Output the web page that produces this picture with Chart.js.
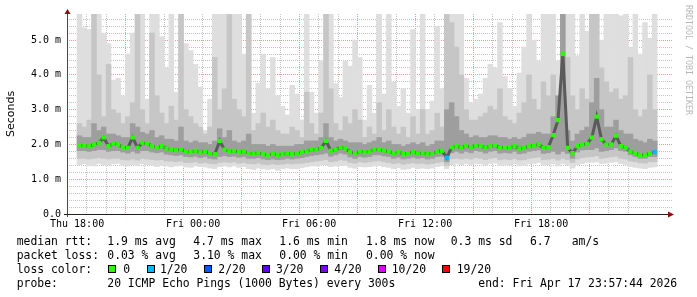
<!DOCTYPE html>
<html>
<head>
<meta charset="utf-8">
<script src="https://cdn.jsdelivr.net/npm/chart.js@4/dist/chart.umd.min.js"></script>
<style>
  html, body { margin: 0; padding: 0; background: #fff; }
  canvas { display: block; }
</style>
</head>
<body>
<canvas id="smoke" width="697" height="297"></canvas>
<script>
// 15 minute columns from Thu 18:00 to Sat 00:00 (values in ms)
const STEP = 0.25;
const xLabels = ["Thu 18:00", "Fri 00:00", "Fri 06:00", "Fri 12:00", "Fri 18:00"];
const yLabels = ["0.0", "1.0 m", "2.0 m", "3.0 m", "4.0 m", "5.0 m"];

const median = [
  1.98, 1.97, 1.95, 2.0, 2.05, 2.2, 1.95, 2.02, 2.0, 1.92,
  1.9, 2.2, 1.9, 2.05, 2.02, 1.95, 1.92, 1.95, 1.88, 1.85,
  1.83, 1.86, 1.8, 1.78, 1.82, 1.77, 1.8, 1.75, 1.72, 2.1,
  1.85, 1.8, 1.82, 1.78, 1.8, 1.75, 1.74, 1.76, 1.72, 1.7,
  1.73, 1.7, 1.72, 1.74, 1.72, 1.75, 1.78, 1.8, 1.85, 1.85,
  1.9, 2.1, 1.82, 1.85, 1.92, 1.88, 1.78, 1.75, 1.8, 1.78,
  1.8, 1.85, 1.85, 1.82, 1.8, 1.75, 1.78, 1.72, 1.75, 1.78,
  1.74, 1.76, 1.72, 1.75, 1.8, 1.82, 1.62, 1.92, 1.95, 1.9,
  1.96, 1.92, 1.98, 1.95, 1.9, 1.95, 1.97, 1.9, 1.92, 1.9,
  1.95, 1.88, 1.9, 1.95, 1.98, 2.0, 1.9, 1.92, 2.27, 2.7,
  4.6, 1.9, 1.75, 1.95, 2.0, 2.02, 2.2, 2.8, 2.15, 2.0,
  2.0, 2.25, 1.95, 1.9, 1.8, 1.75, 1.7, 1.7, 1.75, 1.78
];
// loss per column in pings out of 20
const loss = [
  0,0,0,0,0,0,0,0,0,0, 0,0,0,0,0,0,0,0,0,0,
  0,0,0,0,0,0,0,0,0,0, 0,0,0,0,0,0,0,0,0,0,
  0,0,0,0,0,0,0,0,0,0, 0,0,0,0,0,0,0,0,0,0,
  0,0,0,0,0,0,0,0,0,0, 0,0,0,0,0,0,1,0,0,0,
  0,0,0,0,0,0,0,0,0,0, 0,0,0,0,0,0,0,0,0,0,
  0,0,0,0,0,0,0,0,0,0, 0,0,0,0,0,0,0,0,0,1
];
const pingMax = [
  5.75, 5.35, 5.3, 5.75, 5.75, 5.2, 4.9, 3.85, 3.9, 3.4,
  4.6, 5.2, 5.75, 5.75, 3.3, 5.75, 5.75, 5.1, 4.2, 5.75,
  3.5, 5.75, 4.9, 4.7, 4.3, 3.65, 2.4, 3.3, 5.75, 5.75,
  5.75, 5.75, 5.75, 5.75, 4.6, 5.75, 2.9, 3.76, 4.6, 3.6,
  4.5, 3.4, 3.1, 2.85, 3.7, 3.45, 2.7, 5.75, 3.5, 2.9,
  4.4, 5.75, 5.75, 3.75, 3.35, 4.4, 4.25, 5.0, 4.5, 2.7,
  3.7, 2.9, 5.75, 3.45, 5.75, 3.8, 3.1, 3.6, 2.9, 5.3,
  3.0, 5.75, 3.0, 3.25, 5.4, 3.6, 5.75, 5.75, 5.75, 5.75,
  3.9, 3.2, 3.3, 3.45, 3.9, 4.3, 4.2, 5.5, 3.95, 3.6,
  3.1, 4.05, 4.8, 5.75, 5.0, 4.4, 5.75, 5.75, 5.75, 4.4,
  5.75, 5.75, 5.75, 4.55, 5.75, 5.25, 5.75, 5.75, 5.0, 5.75,
  5.75, 5.75, 5.7, 5.75, 4.8, 5.75, 4.6, 5.5, 5.05, 5.75
];
const upperSmoke = [
  2.6, 2.5, 2.7, 5.75, 4.0, 2.8, 4.3, 3.0, 2.9, 2.6,
  2.8, 3.2, 5.75, 3.0, 2.6, 5.2, 3.4, 2.9, 2.6, 3.1,
  2.7, 5.75, 3.0, 2.8, 2.6, 2.5, 2.3, 2.5, 4.5, 3.0,
  3.6, 5.75, 3.3, 3.0, 2.8, 5.75, 2.4, 2.6, 2.9, 2.5,
  2.7, 2.4, 2.3, 2.3, 2.5, 2.4, 2.2, 3.5, 2.6, 2.3,
  2.9, 5.75, 3.6, 2.6, 2.4, 2.8, 2.6, 3.0, 2.7, 2.2,
  2.5, 2.3, 3.2, 2.4, 3.0, 2.5, 2.3, 2.5, 2.2, 2.8,
  2.3, 3.0, 2.3, 2.4, 2.9, 2.5, 5.75, 5.5, 4.8, 4.0,
  3.0, 2.7, 2.7, 2.8, 2.9, 3.1, 3.0, 3.6, 2.8, 2.7,
  2.6, 2.9, 3.2, 4.0, 3.3, 3.0, 3.8, 3.4, 4.0, 3.2,
  5.75, 4.5, 3.4, 3.0, 3.6, 3.3, 5.75, 5.75, 4.2, 3.8,
  3.5, 3.6, 3.3, 3.4, 4.5, 3.0, 2.8, 3.0, 4.0, 3.0
];
const upperCore = [
  2.25, 2.2, 2.2, 2.6, 2.4, 2.5, 2.3, 2.3, 2.25, 2.2,
  2.2, 2.6, 2.5, 2.35, 2.3, 2.4, 2.2, 2.25, 2.15, 2.15,
  2.1, 2.5, 2.1, 2.05, 2.1, 2.05, 2.05, 2.0, 2.1, 2.45,
  2.2, 2.4, 2.1, 2.05, 2.1, 2.3, 2.0, 2.0, 2.0, 1.95,
  2.0, 1.95, 1.95, 1.95, 1.95, 2.0, 2.0, 2.1, 2.1, 2.1,
  2.2, 2.6, 2.2, 2.1, 2.15, 2.1, 2.05, 2.05, 2.05, 2.0,
  2.05, 2.1, 2.2, 2.05, 2.1, 2.0, 2.0, 1.95, 2.0, 2.05,
  2.0, 2.05, 1.95, 2.0, 2.1, 2.1, 3.0, 3.2, 2.8, 2.4,
  2.3, 2.2, 2.25, 2.2, 2.2, 2.25, 2.25, 2.2, 2.2, 2.15,
  2.2, 2.15, 2.2, 2.3, 2.3, 2.35, 2.3, 2.3, 2.8, 3.4,
  5.75, 2.4, 2.1, 2.3, 2.4, 2.5, 3.2, 3.9, 3.0, 2.5,
  2.5, 2.7, 2.4, 2.3, 2.3, 2.15, 2.1, 2.05, 2.15, 2.1
];
const lowerCore = [
  1.82, 1.82, 1.8, 1.82, 1.85, 1.85, 1.8, 1.82, 1.82, 1.78,
  1.75, 1.8, 1.75, 1.82, 1.82, 1.78, 1.76, 1.78, 1.72, 1.7,
  1.68, 1.7, 1.65, 1.64, 1.66, 1.62, 1.65, 1.6, 1.58, 1.65,
  1.68, 1.65, 1.66, 1.63, 1.65, 1.6, 1.6, 1.62, 1.58, 1.56,
  1.58, 1.56, 1.57, 1.6, 1.58, 1.6, 1.62, 1.65, 1.68, 1.7,
  1.72, 1.75, 1.66, 1.7, 1.75, 1.72, 1.64, 1.6, 1.65, 1.63,
  1.65, 1.7, 1.7, 1.67, 1.65, 1.6, 1.63, 1.58, 1.6, 1.63,
  1.6, 1.62, 1.58, 1.6, 1.65, 1.66, 1.5, 1.76, 1.8, 1.75,
  1.8, 1.76, 1.82, 1.8, 1.75, 1.8, 1.82, 1.75, 1.77, 1.75,
  1.8, 1.73, 1.75, 1.8, 1.82, 1.84, 1.74, 1.76, 1.8, 1.72,
  1.8, 1.74, 1.6, 1.78, 1.84, 1.85, 1.85, 1.9, 1.8, 1.82,
  1.85, 1.9, 1.82, 1.8, 1.7, 1.65, 1.6, 1.6, 1.65, 1.65
];
const lowerSmoke = [
  1.6, 1.6, 1.58, 1.6, 1.62, 1.6, 1.58, 1.6, 1.6, 1.56,
  1.55, 1.58, 1.55, 1.6, 1.58, 1.56, 1.55, 1.56, 1.52, 1.52,
  1.5, 1.52, 1.48, 1.48, 1.5, 1.46, 1.48, 1.45, 1.44, 1.48,
  1.5, 1.48, 1.5, 1.46, 1.48, 1.45, 1.44, 1.46, 1.43, 1.42,
  1.44, 1.42, 1.43, 1.45, 1.44, 1.45, 1.46, 1.48, 1.5, 1.52,
  1.54, 1.56, 1.5, 1.52, 1.56, 1.54, 1.48, 1.46, 1.5, 1.48,
  1.5, 1.52, 1.53, 1.5, 1.48, 1.45, 1.47, 1.43, 1.45, 1.47,
  1.45, 1.46, 1.43, 1.45, 1.48, 1.5, 1.4, 1.58, 1.6, 1.58,
  1.6, 1.58, 1.62, 1.6, 1.56, 1.6, 1.62, 1.56, 1.58, 1.56,
  1.6, 1.55, 1.56, 1.6, 1.62, 1.64, 1.56, 1.57, 1.6, 1.55,
  1.6, 1.56, 1.48, 1.58, 1.62, 1.64, 1.65, 1.68, 1.6, 1.62,
  1.64, 1.66, 1.6, 1.58, 1.52, 1.5, 1.47, 1.46, 1.5, 1.5
];
const pingMin = [
  1.42, 1.45, 1.4, 1.38, 1.45, 1.42, 1.4, 1.44, 1.45, 1.4,
  1.38, 1.42, 1.38, 1.45, 1.42, 1.4, 1.36, 1.4, 1.38, 1.35,
  1.38, 1.4, 1.35, 1.34, 1.38, 1.36, 1.35, 1.32, 1.3, 1.36,
  1.38, 1.35, 1.38, 1.34, 1.36, 1.3, 1.28, 1.32, 1.3, 1.28,
  1.3, 1.26, 1.3, 1.32, 1.3, 1.3, 1.33, 1.35, 1.38, 1.38,
  1.4, 1.42, 1.36, 1.38, 1.4, 1.4, 1.34, 1.32, 1.36, 1.35,
  1.36, 1.38, 1.4, 1.36, 1.34, 1.3, 1.33, 1.28, 1.3, 1.34,
  1.3, 1.32, 1.3, 1.32, 1.36, 1.38, 1.3, 1.42, 1.45, 1.42,
  1.45, 1.42, 1.45, 1.44, 1.4, 1.45, 1.46, 1.4, 1.42, 1.4,
  1.44, 1.38, 1.4, 1.44, 1.45, 1.48, 1.4, 1.42, 1.45, 1.38,
  1.45, 1.4, 1.32, 1.42, 1.45, 1.48, 1.48, 1.5, 1.45, 1.46,
  1.48, 1.5, 1.45, 1.42, 1.36, 1.34, 1.32, 1.3, 1.34, 1.35
];

const lossLevels = ["0", "1/20", "2/20", "3/20", "4/20", "10/20", "19/20"];
const lossColors = ["#26ff00", "#00b8ff", "#0059ff", "#5e00ff", "#7e00ff", "#dd00ff", "#ff0000"];

const legendRows = [
  ["median rtt:", "1.9 ms avg", "4.7 ms max", "1.6 ms min", "1.8 ms now", "0.3 ms sd", "6.7", "am/s"],
  ["packet loss:", "0.03 % avg", "3.10 % max", "0.00 % min", "0.00 % now"]
];
const probeText = "20 ICMP Echo Pings (1000 Bytes) every 300s";
const endText = "end: Fri Apr 17 23:57:44 2026";

function band(lo, hi) {
  return lo.map((v, i) => ({ x: i * STEP + STEP / 2, y: [v, hi[i]] }));
}

const MONO = "'DejaVu Sans Mono', monospace";
const RED_GRID = "#e39a9a";
const GREY_GRID = "#c4c4c4";

const decorations = {
  id: "decorations",
  afterDraw(chart) {
    const c = chart.ctx;
    const a = chart.chartArea;
    c.save();
    // axes
    c.lineWidth = 1;
    c.strokeStyle = "#5a4040";
    c.beginPath();
    c.moveTo(a.left + 0.5, a.bottom + 3);
    c.lineTo(a.left + 0.5, a.top - 2);
    c.stroke();
    c.strokeStyle = "#202020";
    c.beginPath();
    c.moveTo(a.left - 3, a.bottom + 0.5);
    c.lineTo(669, a.bottom + 0.5);
    c.stroke();
    c.fillStyle = "#8b1010";
    c.beginPath();
    c.moveTo(a.left - 2.5, a.top);
    c.lineTo(a.left + 3.5, a.top);
    c.lineTo(a.left + 0.5, a.top - 5);
    c.closePath();
    c.fill();
    c.beginPath();
    c.moveTo(668, a.bottom - 2.5);
    c.lineTo(668, a.bottom + 3.5);
    c.lineTo(674, a.bottom + 0.5);
    c.closePath();
    c.fill();

    // axis title
    c.fillStyle = "#000";
    c.font = "11px 'DejaVu Sans'";
    c.textAlign = "center";
    c.textBaseline = "middle";
    c.translate(11, 114);
    c.rotate(-Math.PI / 2);
    c.fillText("Seconds", 0, 0);
    c.setTransform(1, 0, 0, 1, 0, 0);

    // watermark
    c.fillStyle = "#b8b8b8";
    c.font = "8.3px " + MONO;
    c.textAlign = "left";
    c.translate(688, 5);
    c.rotate(Math.PI / 2);
    c.fillText("RRDTOOL / TOBI OETIKER", 0, 0);
    c.setTransform(1, 0, 0, 1, 0, 0);

    // legend
    c.fillStyle = "#000";
    c.font = "11.4px " + MONO;
    c.textBaseline = "alphabetic";
    const cols = [16.7, 107.3, 193.3, 279.3, 366, 450.7, 530, 571.7];
    legendRows.forEach((row, r) => {
      row.forEach((t, k) => c.fillText(t, cols[k], 245 + r * 14));
    });
    c.fillText("loss color:", 16.7, 273);
    const boxX = [108, 147, 204, 262, 320, 378, 442];
    const txtX = [123.3, 160, 218.3, 276, 334.3, 391.7, 456.7];
    lossLevels.forEach((lvl, k) => {
      c.fillStyle = lossColors[k];
      c.fillRect(boxX[k], 265, 8, 8);
      c.strokeStyle = "#000";
      c.strokeRect(boxX[k] + 0.5, 265.5, 7, 7);
      c.fillStyle = "#000";
      c.fillText(lvl, txtX[k], 273);
    });
    c.fillText("probe:", 16.7, 287);
    c.fillText(probeText, 107.3, 287);
    c.fillText(endText, 478.3, 287);
    c.restore();
  }
};

function xGridColor(c) {
  if (!c.tick) return "rgba(0,0,0,0)";
  return c.tick.value % 3 === 0 ? RED_GRID : GREY_GRID;
}

function yGridColor(c) {
  if (!c.tick) return "rgba(0,0,0,0)";
  const r = Math.round(c.tick.value * 10);
  if (r === 0) return "rgba(0,0,0,0)";
  return r % 10 === 0 ? RED_GRID : GREY_GRID;
}

function drawChart() {
  const ctx = document.getElementById("smoke").getContext("2d");
  new Chart(ctx, {
    type: "bar",
    data: {
      datasets: [
        {
          // median: dark core line with loss-coloured squares on it
          type: "line",
          data: median.map((v, i) => ({ x: i * STEP + STEP / 2, y: v })),
          borderColor: "#5a5a5a",
          borderWidth: 3,
          pointStyle: "rect",
          pointRadius: 3,
          pointBorderWidth: 0,
          pointBackgroundColor: loss.map((l) => lossColors[l]),
          order: 0,
        },
        {
          data: band(lowerCore, upperCore),
          backgroundColor: "#9e9e9e",
          grouped: false,
          barPercentage: 1,
          categoryPercentage: 1,
          order: 1,
        },
        {
          data: band(lowerSmoke, upperSmoke),
          backgroundColor: "#c6c6c6",
          grouped: false,
          barPercentage: 1,
          categoryPercentage: 1,
          order: 2,
        },
        {
          data: band(pingMin, pingMax),
          backgroundColor: "#dedede",
          grouped: false,
          barPercentage: 1,
          categoryPercentage: 1,
          order: 3,
        },
      ],
    },
    options: {
      responsive: false,
      animation: false,
      devicePixelRatio: 1,
      layout: { padding: { top: 14, right: 25, left: 0, bottom: 0 } },
      plugins: { legend: { display: false }, tooltip: { enabled: false } },
      scales: {
        x: {
          type: "linear",
          min: 0,
          max: 30.25,
          z: 1,
          afterFit: (s) => { s.height = 83; },
          border: { display: false, dash: [1, 1] },
          grid: { drawTicks: false, color: xGridColor },
          ticks: {
            stepSize: 1,
            autoSkip: false,
            includeBounds: false,
            maxRotation: 0,
            padding: 4,
            color: "#000",
            font: { family: MONO, size: 10 },
            callback: (v) => (v % 6 === 0 ? xLabels[v / 6] : ""),
          },
        },
        y: {
          min: 0,
          max: 5.75,
          z: 1,
          afterFit: (s) => { s.width = 67; },
          border: { display: false, dash: [1, 1] },
          grid: { drawTicks: false, color: yGridColor },
          ticks: {
            stepSize: 0.2,
            autoSkip: false,
            includeBounds: false,
            padding: 6,
            color: "#000",
            font: { family: MONO, size: 10 },
            callback: (v) => {
              const r = Math.round(v * 10);
              return r % 10 === 0 ? yLabels[r / 10] : "";
            },
          },
        },
      },
    },
    plugins: [decorations],
  });
}
window.addEventListener("DOMContentLoaded", drawChart);
</script>
</body>
</html>
